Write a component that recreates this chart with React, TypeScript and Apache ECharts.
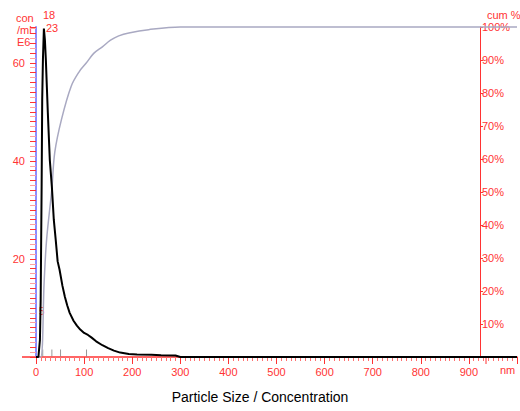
import React, { useEffect, useRef } from "react";
import * as echarts from "echarts";

// Concentration distribution (size nm, concentration E6 particles/ml)
const concSize = [0, 5, 8.2, 9.7, 11.7, 12.9, 14.4, 16.4, 18.5, 20.5, 22.6, 24.6, 28.7, 33, 37, 41, 45, 49, 55, 60, 65, 70, 78, 85, 92, 100, 108, 115, 125, 138, 150, 162, 175, 193, 210, 240, 260, 290, 300, 1000];
const concValue = [0, 0, 3.5, 11.6, 34.7, 52.4, 60.6, 67, 64.7, 60.6, 55, 49.8, 40.2, 34.7, 28, 23.9, 19.5, 17.8, 14.5, 12.3, 10.5, 9, 7.4, 6.4, 5.6, 4.9, 4.5, 4, 3.2, 2.4, 1.8, 1.3, 0.9, 0.6, 0.5, 0.45, 0.35, 0.3, 0, 0];

// Cumulative percentage
const cumSize = [0, 9.7, 17, 22, 33, 39, 53, 73, 90, 104, 120, 138, 155, 172, 193, 234, 300, 1000];
const cumValue = [0, 0, 23, 35.5, 51, 62, 72, 82, 86.5, 89, 92, 94, 96, 97.3, 98.2, 99.2, 100, 100];

// Marker ticks on the size axis (nm)
const markerSizes = [14, 33, 51, 105];

// Peak annotations
const peakLabels = ["18", "23"];

const RED = "#ff3333";
const FONT = "Liberation Sans, Arial, sans-serif";

export default function App() {
  const ref = useRef<HTMLDivElement>(null);
  useEffect(() => {
    document.body.style.margin = "0";
    if (!ref.current) return;
    const chart = echarts.init(ref.current, undefined, { renderer: "svg" });
    const conc = concSize.map((s, i) => [s, concValue[i]]);
    const cum = cumSize.map((s, i) => [s, cumValue[i]]);
    chart.setOption({
      animation: false,
      backgroundColor: "#ffffff",
      textStyle: { fontFamily: FONT },
      grid: { left: 36, right: -3, top: 27, bottom: 54, containLabel: false },
      xAxis: {
        type: "value",
        min: 0,
        max: 1000,
        interval: 100,
        axisLine: { show: true, lineStyle: { color: RED, width: 1.5 } },
        axisTick: { show: true, length: 7, lineStyle: { color: RED } },
        minorTick: { show: true, splitNumber: 10, length: 4, lineStyle: { color: "#ff7070" } },
        splitLine: { show: false },
        axisLabel: {
          color: RED,
          fontSize: 11,
          fontFamily: FONT,
          margin: 9,
          formatter: (v: number) => (v >= 1000 ? "" : String(v)),
        },
      },
      yAxis: [
        {
          type: "value",
          min: 0,
          max: 67.3,
          interval: 2,
          position: "left",
          axisLine: { show: true, onZero: false, lineStyle: { color: "#8c8cff", width: 2 } },
          axisTick: { show: true, length: 6, lineStyle: { color: RED } },
          minorTick: { show: true, splitNumber: 2, length: 6, lineStyle: { color: "#ffa0a0" } },
          splitLine: { show: false },
          axisLabel: {
            color: RED,
            fontSize: 11,
            fontFamily: FONT,
            margin: 11,
            formatter: (v: number) => (v > 0 && v % 20 === 0 ? String(v) : ""),
          },
        },
        {
          type: "value",
          min: 0,
          max: 100,
          interval: 10,
          position: "right",
          offset: -37,
          axisLine: { show: true, onZero: false, lineStyle: { color: RED, width: 1 } },
          axisTick: { show: true, length: 3, lineStyle: { color: RED } },
          splitLine: { show: false },
          axisLabel: {
            color: RED,
            fontSize: 11,
            fontFamily: FONT,
            margin: 2,
            formatter: (v: number) => (v > 0 ? v + "%" : ""),
          },
        },
      ],
      series: [
        {
          type: "line",
          yAxisIndex: 1,
          data: cum,
          showSymbol: false,
          clip: false,
          smooth: 0.35,
          lineStyle: { color: "#a9a9c2", width: 1.5 },
          z: 3,
        },
        {
          type: "line",
          yAxisIndex: 0,
          data: conc,
          showSymbol: false,
          clip: false,
          lineStyle: { color: "#000000", width: 2 },
          z: 4,
        },
        {
          type: "scatter",
          yAxisIndex: 0,
          data: markerSizes.map((s) => [s, 0]),
          symbol: "rect",
          symbolSize: [1, 7],
          symbolOffset: [0, -4],
          itemStyle: { color: "#808080" },
          silent: true,
          z: 2,
        },
      ],
      graphic: [
        { type: "line", shape: { x1: 22, y1: 357, x2: 36, y2: 357 }, style: { stroke: RED, lineWidth: 1.5 } },
        { type: "line", shape: { x1: 486, y1: 357, x2: 486, y2: 364 }, style: { stroke: RED, lineWidth: 1 } },
        { type: "text", left: 16, top: 12, style: { text: "con", fill: RED, font: `11px ${FONT}` } },
        { type: "text", left: 17, top: 24, style: { text: "/ml", fill: RED, font: `11px ${FONT}` } },
        { type: "text", left: 17, top: 36, style: { text: "E6", fill: RED, font: `11px ${FONT}` } },
        { type: "text", left: 43, top: 9, style: { text: peakLabels[0], fill: RED, font: `11px ${FONT}` } },
        { type: "text", left: 46, top: 22, style: { text: peakLabels[1], fill: RED, font: `11px ${FONT}` } },
        { type: "text", left: 39, top: 306, style: { text: "5", fill: RED, font: `10px ${FONT}` } },
        { type: "text", left: 487, top: 9, style: { text: "cum %", fill: RED, font: `11px ${FONT}` } },
        { type: "text", left: 500, top: 364, style: { text: "nm", fill: RED, font: `11px ${FONT}` } },
        {
          type: "text",
          left: "center",
          top: 390,
          style: { text: "Particle Size / Concentration", fill: "#000000", font: `14px ${FONT}` },
        },
      ],
    });
    return () => chart.dispose();
  }, []);
  return <div ref={ref} style={{ width: 520, height: 411 }} />;
}
